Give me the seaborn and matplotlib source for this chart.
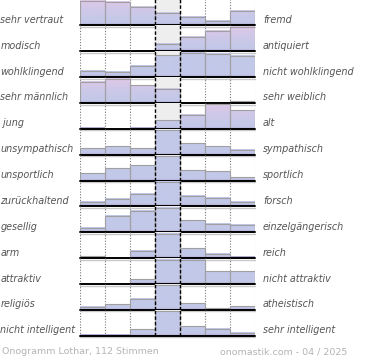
import numpy as np
import matplotlib
matplotlib.use("Agg")
import matplotlib.pyplot as plt
import seaborn as sns
import pandas as pd
from matplotlib.colors import to_rgb

# ---- data (relative bar heights, 7 answer steps per row) ----
left_labels = ["sehr vertraut", "modisch", "wohlklingend", "sehr männlich", " jung",
               "unsympathisch", "unsportlich", "zurückhaltend", "gesellig", "arm",
               "attraktiv", "religiös", "nicht intelligent"]
right_labels = ["fremd", "antiquiert", "nicht wohlklingend", "sehr weiblich", "alt",
                "sympathisch", "sportlich", "forsch", "einzelgängerisch", "reich",
                "nicht attraktiv", "atheistisch", "sehr intelligent"]
steps = ["1", "2", "3", "4", "5", "6", "7"]
row_vertraut = [24.3, 23.6, 18.0, 12.6, 8.0, 4.6, 14.6]
row_modisch = [0.0, 0.0, 0.0, 7.3, 15.0, 21.0, 25.0]
row_wohlklingend = [6.3, 5.3, 11.3, 21.7, 24.3, 23.3, 21.0]
row_maennlich = [21.0, 24.3, 17.6, 14.3, 0.0, 0.0, 1.6]
row_jung = [1.0, 0.0, 1.0, 8.6, 14.0, 24.3, 18.6]
row_sympathisch = [6.3, 8.7, 6.3, 24.0, 11.3, 8.3, 5.0]
row_sportlich = [7.3, 12.0, 15.3, 24.0, 10.0, 9.3, 3.3]
row_forsch = [4.6, 7.0, 12.0, 24.0, 10.6, 8.6, 4.6]
row_gesellig = [4.4, 16.7, 21.4, 24.4, 12.0, 8.7, 7.4]
row_reich = [1.7, 0.0, 7.0, 24.0, 9.7, 4.4, 1.0]
row_attraktiv = [0.0, 0.0, 4.4, 23.7, 23.7, 12.4, 12.4]
row_religioes = [3.0, 5.7, 10.7, 23.3, 6.3, 1.7, 3.3]
row_intelligent = [1.0, 1.0, 6.3, 23.0, 9.0, 6.7, 3.0]
rows = [row_vertraut, row_modisch, row_wohlklingend, row_maennlich, row_jung,
        row_sympathisch, row_sportlich, row_forsch, row_gesellig, row_reich,
        row_attraktiv, row_religioes, row_intelligent]
footer_left = "Onogramm Lothar, 112 Stimmen"
footer_right = "onomastik.com - 04 / 2025"

# ---- style ----
W, Hf = 370, 360
pink_rows = {0, 1, 3, 4}
BLUE = np.array(to_rgb("#c2c8e8"))
PINK = np.array(to_rgb("#e0c8e8"))
DARK = np.array(to_rgb("#a898c8"))
ROW_H = 25.87
FIRST_BASE = 25.3
FULL_PX = 24.4
YTOP = ROW_H / FULL_PX

sns.set_style("white")
plt.rcParams["font.family"] = ["DejaVu Sans"]
fig = plt.figure(figsize=(W / 100, Hf / 100), dpi=100)
fig.patch.set_facecolor("white")

for i, vals in enumerate(rows):
    base = FIRST_BASE + ROW_H * i
    ax = fig.add_axes([80 / W, 1 - base / Hf, 175 / W, ROW_H / Hf])
    ax.set_facecolor("none")
    vmax = max(vals)
    df = pd.DataFrame({"step": steps, "v": [v / vmax for v in vals]})
    sns.barplot(data=df, x="step", y="v", ax=ax, width=1.0, color="white",
                edgecolor="#a0a0a0", linewidth=0.8, zorder=3)
    bars = list(ax.patches)
    # gradient fill of each bar
    for p in bars:
        h = p.get_height()
        if h <= 0:
            p.set_visible(False)
            continue
        hpx = h / YTOP * ROW_H
        n = max(2, int(round(hpx * 2)))
        cols = []
        for j in range(n):
            ypx = (j + 0.5) / 2
            if ypx < 2.0:
                c = DARK * 0.6 + BLUE * 0.4 if ypx < 1.0 else DARK * 0.3 + BLUE * 0.7
            else:
                t = (ypx / FULL_PX) ** 1.5 if i in pink_rows else 0.0
                c = BLUE * (1 - t) + PINK * t
            cols.append(c)
        img = np.array(cols).reshape(n, 1, 3)
        x0 = p.get_x()
        ax.imshow(img, extent=[x0, x0 + p.get_width(), 0, h], origin="lower",
                  aspect="auto", zorder=2, interpolation="bilinear")
        p.set_facecolor("none")
    ax.axvspan(2.5, 3.5, color="#eeeeee", zorder=0)
    for xv in [-0.5, 0.5, 1.5, 4.5, 5.5, 6.5]:
        ax.axvline(xv, color="#777777", lw=0.8, ls=(0, (1, 1.5)), zorder=0.5)
    for xv in [2.5, 3.5]:
        ax.axvline(xv, color="black", lw=1.0, ls=(0, (2.5, 1.5)), zorder=6)
    ax.set_xlim(-0.5, 6.5)
    ax.set_ylim(0, YTOP)
    ax.axhline(0, color="black", lw=1.4, zorder=7, clip_on=False)
    ax.axhline(-1.6 / ROW_H * YTOP, color="#c8c8c8", lw=1.0, zorder=1, clip_on=False)
    ax.set_xlabel("")
    ax.set_ylabel("")
    ax.set_xticks([])
    ax.set_yticks([])
    for s in ax.spines.values():
        s.set_visible(False)
    ty = 1 - (base - 5.5) / Hf
    fig.text(0.5 / W, ty, left_labels[i], ha="left", va="center", fontsize=6.9,
             style="italic", color="#555555")
    fig.text(263 / W, ty, right_labels[i], ha="left", va="center", fontsize=6.9,
             style="italic", color="#555555")

fig.text(2 / W, 1 - 352 / Hf, footer_left, ha="left", va="center", fontsize=6.8,
         color="#b4b4b4")
fig.text(220 / W, 1 - 352 / Hf, footer_right, ha="left", va="center", fontsize=6.8,
         color="#b4b4b4")

fig.savefig("out.png", dpi=100, facecolor="white")
